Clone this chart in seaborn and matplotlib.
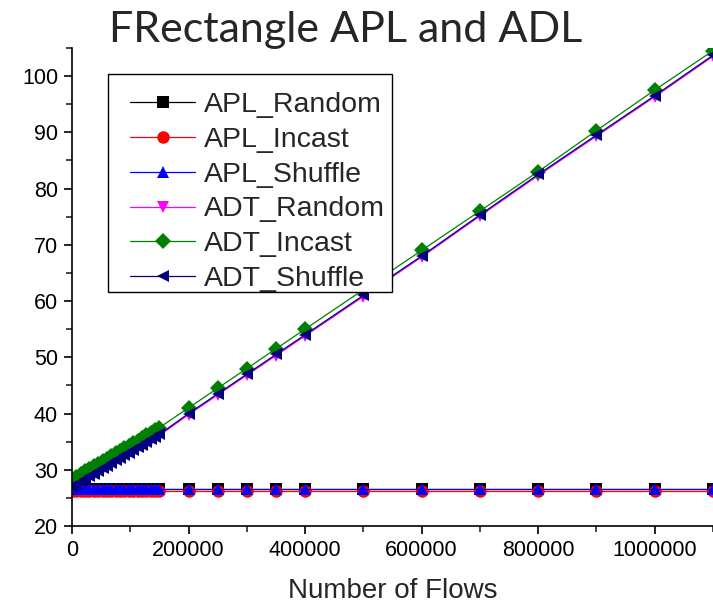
import matplotlib
matplotlib.use("Agg")
import matplotlib.pyplot as plt
from matplotlib.patches import Rectangle
import seaborn as sns
import pandas as pd

flows = [0, 7500, 15000, 22500, 30000, 37500, 45000, 52500, 60000, 67500, 75000,
         82500, 90000, 97500, 105000, 112500, 120000, 127500, 135000, 142500, 150000,
         200000, 250000, 300000, 350000, 400000, 500000, 600000, 700000, 800000,
         900000, 1000000, 1100000]

apl_random = [26.5, 26.5, 26.5, 26.5, 26.5, 26.5, 26.5, 26.5, 26.5, 26.5, 26.5,
              26.5, 26.5, 26.5, 26.5, 26.5, 26.5, 26.5, 26.5, 26.5, 26.5,
              26.5, 26.5, 26.5, 26.5, 26.5, 26.5, 26.5, 26.5, 26.5, 26.5, 26.5, 26.5]
apl_incast = [26.3, 26.3, 26.3, 26.3, 26.3, 26.3, 26.3, 26.3, 26.3, 26.3, 26.3,
              26.3, 26.3, 26.3, 26.3, 26.3, 26.3, 26.3, 26.3, 26.3, 26.3,
              26.3, 26.3, 26.3, 26.3, 26.3, 26.3, 26.3, 26.3, 26.3, 26.3, 26.3, 26.3]
apl_shuffle = [26.6, 26.6, 26.6, 26.6, 26.6, 26.6, 26.6, 26.6, 26.6, 26.6, 26.6,
               26.6, 26.6, 26.6, 26.6, 26.6, 26.6, 26.6, 26.6, 26.6, 26.6,
               26.6, 26.6, 26.6, 26.6, 26.6, 26.6, 26.6, 26.6, 26.6, 26.6, 26.6, 26.6]
adt_random = [26.8, 27.3, 27.7, 28.2, 28.7, 29.1, 29.6, 30.1, 30.5, 31.0, 31.5,
              31.9, 32.4, 32.8, 33.3, 33.8, 34.2, 34.7, 35.2, 35.6, 36.1,
              39.8, 43.3, 46.8, 50.3, 53.8, 60.8, 67.8, 75.1, 82.3, 89.3, 96.3, 103.5]
adt_incast = [28.3, 28.8, 29.2, 29.7, 30.1, 30.6, 31.1, 31.5, 32.0, 32.4, 32.9,
              33.4, 33.8, 34.3, 34.7, 35.2, 35.7, 36.1, 36.6, 37.0, 37.5,
              41.0, 44.5, 48.0, 51.5, 55.0, 62.0, 69.0, 76.0, 83.0, 90.3, 97.5, 104.5]
adt_shuffle = [27.0, 27.5, 27.9, 28.4, 28.9, 29.3, 29.8, 30.3, 30.7, 31.2, 31.7,
               32.1, 32.6, 33.0, 33.5, 34.0, 34.4, 34.9, 35.4, 35.8, 36.3,
               40.0, 43.5, 47.0, 50.5, 54.0, 61.0, 68.0, 75.3, 82.5, 89.5, 96.5, 103.7]

series_names = ["APL_Random", "APL_Incast", "APL_Shuffle", "ADT_Random", "ADT_Incast", "ADT_Shuffle"]
series_values = [apl_random, apl_incast, apl_shuffle, adt_random, adt_incast, adt_shuffle]
colors = ["#000000", "#ff0000", "#0000ff", "#ff00ff", "#008000", "#000080"]
markers = ["s", "o", "^", "v", "D", "<"]

sns.set_style("ticks")
plt.rcParams["font.family"] = ["Liberation Sans", "DejaVu Sans"]

W, H = 713, 606
fig = plt.figure(figsize=(7.13, 6.06), dpi=100)
ax = fig.add_axes([0.101, 0.132, 0.899, 0.789])

for name, vals, c, m in zip(series_names, series_values, colors, markers):
    df = pd.DataFrame({"Number of Flows": flows, "value": vals})
    ms = 8 if m == "D" else 9
    sns.lineplot(data=df, x="Number of Flows", y="value", ax=ax, color=c,
                 marker=m, markersize=ms, markeredgewidth=0, linewidth=0.9,
                 label=name, estimator=None, sort=False)

ax.set_xlim(0, 1100000)
ax.set_ylim(20, 105)
ax.set_xticks([0, 200000, 400000, 600000, 800000, 1000000])
ax.set_xticks([100000, 300000, 500000, 700000, 900000, 1100000], minor=True)
ax.set_yticks([20, 30, 40, 50, 60, 70, 80, 90, 100])
ax.set_yticks([25, 35, 45, 55, 65, 75, 85, 95, 105], minor=True)
ax.set_xticklabels(["0", "200000", "400000", "600000", "800000", "1000000"])
ax.tick_params(axis="both", which="major", direction="out", length=6, width=1.2,
               labelsize=15.5, colors="black", pad=4)
ax.tick_params(axis="both", which="minor", direction="out", length=4, width=1.2)
for s in ["top", "right"]:
    ax.spines[s].set_visible(False)
for s in ["left", "bottom"]:
    ax.spines[s].set_linewidth(1.2)
    ax.spines[s].set_color("black")
ax.set_ylabel("")
ax.set_xlabel("Number of Flows", fontsize=20, labelpad=12)

# legend frame drawn separately for exact placement
frame = Rectangle((108 / W, 1 - 292 / H), (392 - 108) / W, (292 - 74) / H,
                  transform=fig.transFigure, facecolor="white", edgecolor="black",
                  linewidth=1.0, zorder=4, clip_on=False)
ax.add_patch(frame)

leg = ax.legend(loc="upper left", bbox_to_anchor=(130 / W, 1 - 92 / H),
                bbox_transform=fig.transFigure, borderaxespad=0, fontsize=20.5,
                frameon=False, handlelength=2.3, labelspacing=0.31, borderpad=0,
                handletextpad=0.3)
leg.set_zorder(6)

fig.text(0.485, 0.95, "FRectangle APL and ADL", ha="center", va="center",
         fontsize=31, family=["Lato", "DejaVu Sans"])

fig.savefig("out.png", dpi=100)
